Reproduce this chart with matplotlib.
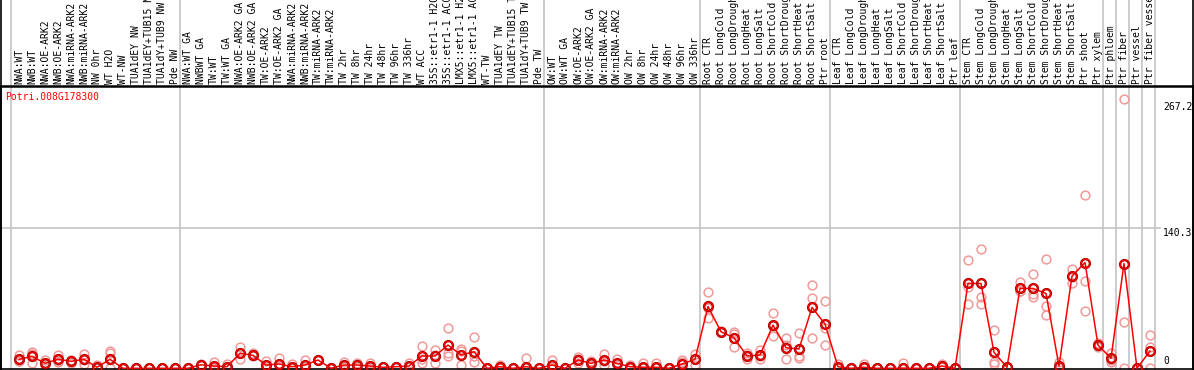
import numpy as np
import matplotlib
matplotlib.use("Agg")
import matplotlib.pyplot as plt
from matplotlib.lines import Line2D

gene = "Potri.008G178300"

labels = [
    # nw group
    "NWA:WT", "NWB:WT", "NWA:OE-ARK2", "NWB:OE-ARK2", "NWA:miRNA-ARK2",
    "NWB:miRNA-ARK2", "NW 0hr", "WT H2O", "WT-NW", "TUA1dEY NW",
    "TUA1dEY+TUB15 NW", "TUA1dY+TUB9 NW", "Pde NW",
    # tw group
    "NWA:WT GA", "NWBWT GA", "TW:WT", "TW:WT GA", "NWA:OE-ARK2 GA",
    "NWB:OE-ARK2 GA", "TW:OE-ARK2", "TW:OE-ARK2 GA", "NWA:miRNA-ARK2",
    "NWB:miRNA-ARK2", "TW:miRNA-ARK2", "TW:miRNA-ARK2", "TW 2hr", "TW 8hr",
    "TW 24hr", "TW 48hr", "TW 96hr", "TW 336hr", "WT ACC", "35S::etr1-1 H2O",
    "35S::etr1-1 ACC", "LMX5::etr1-1 H2O", "LMX5::etr1-1 ACC", "WT-TW",
    "TUA1dEY TW", "TUA1dEY+TUB15 TW", "TUA1dY+TUB9 TW", "Pde TW",
    # ow group
    "OW:WT", "OW:WT GA", "OW:OE-ARK2", "OW:OE-ARK2 GA", "OW:miRNA-ARK2",
    "OW:miRNA-ARK2", "OW 2hr", "OW 8hr", "OW 24hr", "OW 48hr", "OW 96hr",
    "OW 336hr",
    # root
    "Root CTR", "Root LongCold", "Root LongDrought", "Root LongHeat",
    "Root LongSalt", "Root ShortCold", "Root ShortDrought", "Root ShortHeat",
    "Root ShortSalt", "Ptr root",
    # leaf
    "Leaf CTR", "Leaf LongCold", "Leaf LongDrought", "Leaf LongHeat",
    "Leaf LongSalt", "Leaf ShortCold", "Leaf ShortDrought", "Leaf ShortHeat",
    "Leaf ShortSalt", "Ptr leaf",
    # stem
    "Stem CTR", "Stem LongCold", "Stem LongDrought", "Stem LongHeat",
    "Stem LongSalt", "Stem ShortCold", "Stem ShortDrought", "Stem ShortHeat",
    "Stem ShortSalt", "Ptr shoot", "Ptr xylem",
    "Ptr phloem", "Ptr fiber", "Ptr vessel", "Ptr fiber vessel",
]

group_sizes = [13, 28, 12, 10, 10, 11, 1, 1, 1, 1]

means = [
    9, 12, 5, 9, 7, 9, 1, 9, 0, 0, 0, 0, 0,
    0, 3.5, 2.3, 1.6, 15, 13, 3.3, 4.3, 1.6, 3.3, 8.3, 0, 3.3, 3.3, 2.3, 1,
    1.6, 2.3, 12.3, 12.3, 23.3, 13.3, 16.6, 0, 1.6, 0, 1.6, 0,
    3.3, 0, 8.3, 5, 8.3, 5, 1.6, 1, 1, 0, 4.3, 9,
    62, 36.6, 30.6, 12.3, 13.3, 43.3, 20.6, 19.3, 61, 44.3,
    1.6, 0, 1, 0, 0, 0, 0, 0, 2.3, 0,
    85, 85, 16, 1, 80, 80, 75, 2.3, 92.3, 106, 23.3,
    10, 105, 0, 17.3,
]

reps = [
    [13, 7, 7], [16.6, 5, 14], [8.3, 4.3, 3], [13.3, 6.6, 7], [7.6, 5, 8],
    [14.3, 4.3, 8.5], [3.3, 0, 0], [17.6, 15, 0], [0, 0, 0], [0, 0, 0],
    [0, 0, 0], [0, 0, 0], [0, 0, 0],
    [0, 0, 0], [4.3, 3, 3], [6, 1, 0], [4.3, 0.5, 0], [21, 9, 15],
    [15, 12, 13], [7.6, 2, 0.5], [10, 2, 1], [4.3, 0.5, 0], [8.3, 1, 0.5],
    [8.3, 8, 8.5], [0, 0, 0], [6.6, 2, 1.5], [5.6, 3, 1.5], [5, 1.5, 0.5],
    [1, 1, 1], [1.6, 1.6, 1.6], [5, 1, 1], [22.3, 5, 9.6], [18.3, 5, 13.6],
    [40, 15, 12.3], [19, 17.6, 3.3], [31, 6.6, 12.3], [0, 0, 0],
    [3.3, 1, 0.5], [0, 0, 0], [10, 0, 0], [0, 0, 0],
    [8.3, 1, 0.5], [0, 0, 0], [11, 5, 9], [7.6, 4, 3.4], [14.3, 3.3, 7.3],
    [9, 3, 3], [3.3, 1, 0.5], [5, 0, 0], [5, 0, 0], [0, 0, 0],
    [8.3, 6.6, 0], [14.3, 3.3, 9.4],
    [76.6, 50, 60], [36.6, 37, 36], [34.3, 21, 36.5], [15, 9, 13],
    [18.3, 12, 9.6], [55, 32.3, 42.6], [30, 9, 23], [35, 12.3, 10.6],
    [83.3, 70, 30], [67.6, 40, 23.3],
    [4.3, 0.5, 0], [0, 0, 0], [4.3, 0, 0], [0, 0, 0], [0, 0, 0],
    [5, 0, 0], [0, 0, 0], [0, 0, 0], [4, 2, 1], [0, 0, 0],
    [108.3, 81.6, 64.3], [120, 71, 64.3], [38.3, 6.6, 4.3], [1, 1, 1],
    [86, 77.6, 77], [94, 74.3, 71], [110, 62.3, 53.3], [6.6, 0, 0],
    [100, 85.6, 91], [174, 87.3, 57.3], [23.3, 25, 21.6],
    [15, 6.6, 8.4], [270, 46, 0], [0, 0, 0], [33, 21, 0],
]

y_ticks = [0, 140.3, 267.2]

W, H = 1194, 370
font = "DejaVu Sans Mono"


def px_x(p):
    # figure pixel -> column units (column i sits at 19 + 13 i px)
    return (p - 19) / 13.0


fig = plt.figure(figsize=(W / 100, H / 100), dpi=100)
top_px, bot_px = 86, 369
ax = fig.add_axes([1 / W, (H - bot_px) / H, 1192 / W, (bot_px - top_px) / H])
ax.set_xlim(px_x(1), px_x(1193))
zero_px = 368.3
scale = 0.998
ax.set_ylim(-(bot_px - zero_px) / scale, (zero_px - top_px) / scale)
ax.set_xticks([])
ax.set_yticks([])
for s in ax.spines.values():
    s.set_color("black")
    s.set_linewidth(1.2)
ax.spines["top"].set_linewidth(1.8)

x = np.arange(len(labels))

# group separators (run up through the label area)
starts = np.concatenate([[0], np.cumsum(group_sizes)])
extra = (top_px) / (bot_px - top_px)
for st in starts:
    ax.plot([st - 0.62, st - 0.62], [0, 1 + extra], color="#c4c4c4", lw=1.2,
            transform=ax.get_xaxis_transform(), clip_on=False, zorder=0)

# mid gridline
ax.plot([px_x(0), px_x(1160)], [y_ticks[1], y_ticks[1]], color="#c4c4c4",
        lw=1.2, zorder=0)

# left/right border lines up to the top of the figure
fig.add_artist(Line2D([1 / W, 1 / W], [0, 1], color="black", lw=1.2))
fig.add_artist(Line2D([1193 / W, 1193 / W], [0, 1], color="black", lw=1.2))

# replicates
rx, ry = [], []
for i, r in enumerate(reps):
    for v in r:
        rx.append(i)
        ry.append(v)
ax.plot(rx, ry, "o", mfc="none", mec="#f09a9a", ms=6.3, mew=1.1, zorder=2)

# means
ax.plot(x, means, "-", color="red", lw=1.1, zorder=3)
ax.plot(x, means, "o", mfc="none", mec="#900000", ms=6.3, mew=1.7, zorder=4)
ax.plot(x, means, "o", mfc="none", mec="red", ms=6.3, mew=0.9, zorder=5)

# sample labels
for i, lab in enumerate(labels):
    ax.text(i, 1 + 2.0 / (bot_px - top_px), lab, rotation=90, ha="center",
            va="bottom", fontsize=7, family=font, color="black",
            transform=ax.get_xaxis_transform(), clip_on=False)

# value labels on the right
ax.text(px_x(1163), y_ticks[2], "%.1f" % y_ticks[2], ha="left", va="top",
        fontsize=7, family=font)
ax.text(px_x(1163), y_ticks[1], "%.1f" % y_ticks[1], ha="left", va="top",
        fontsize=7, family=font)
ax.text(px_x(1163), 2.5, "0", ha="left", va="bottom", fontsize=7, family=font)

ax.text(px_x(5), 1 - 11.0 / (bot_px - top_px), gene, ha="left", va="center",
        fontsize=7, family=font, color="red",
        transform=ax.get_xaxis_transform())

fig.savefig("out.png", dpi=100)
